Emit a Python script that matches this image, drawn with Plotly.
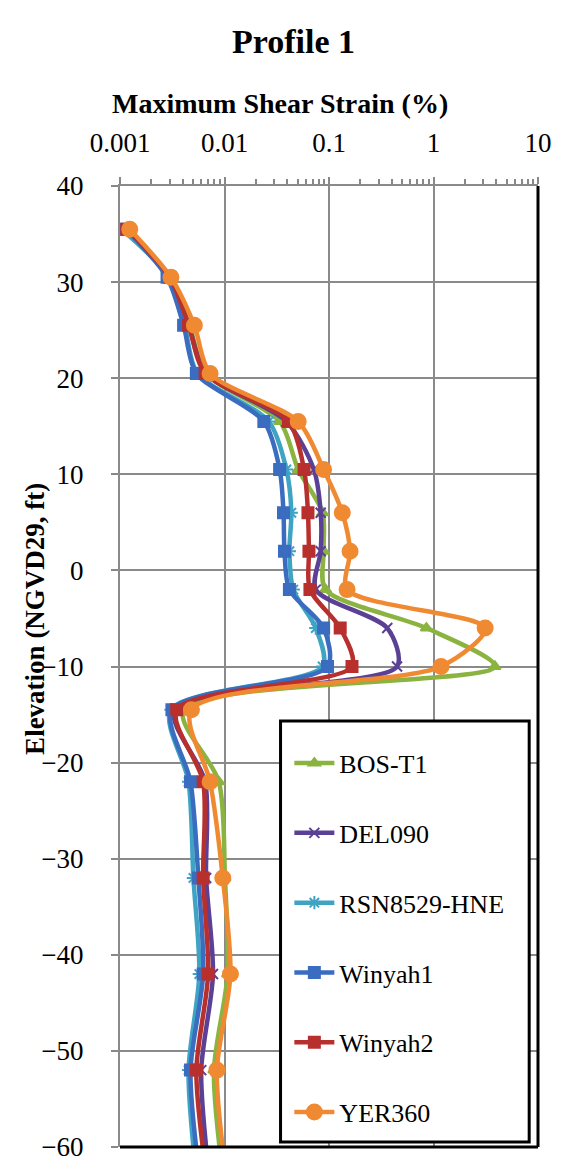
import plotly.graph_objects as go

# Elevation (ft, NGVD29) of each computed point
elevation = [35.5, 30.5, 25.5, 20.5, 15.5, 10.5, 6, 2, -2, -6, -10, -14.5, -22, -32, -42, -52, -62]

# Maximum shear strain (%) per motion
bos_t1 = [0.00116, 0.00300, 0.00462, 0.00667, 0.0337, 0.0507, 0.0869, 0.0888, 0.0927, 0.855, 3.87,
          0.00406, 0.00884, 0.0101, 0.0107, 0.00793, 0.00942]
del090 = [0.00109, 0.00300, 0.00453, 0.00667, 0.0391, 0.0716, 0.0833, 0.0833, 0.0747, 0.361, 0.448,
          0.00335, 0.00653, 0.00667, 0.00776, 0.00599, 0.00697]
rsn8529_hne = [0.00104, 0.00294, 0.00415, 0.00550, 0.0265, 0.0391, 0.0436, 0.0418, 0.0455, 0.0747, 0.0869,
               0.00307, 0.00453, 0.00504, 0.00574, 0.00453, 0.00526]
winyah1 = [0.00114, 0.00282, 0.00406, 0.00538, 0.0238, 0.0337, 0.0367, 0.0375, 0.0418, 0.0888, 0.0968,
           0.00314, 0.00473, 0.00562, 0.00625, 0.00473, 0.00562]
winyah2 = [0.00116, 0.00300, 0.00453, 0.00653, 0.0409, 0.0577, 0.0629, 0.0643, 0.0657, 0.128, 0.166,
           0.00349, 0.00625, 0.00625, 0.00697, 0.00538, 0.00653]
yer360 = [0.00124, 0.00307, 0.00515, 0.00728, 0.0507, 0.0888, 0.134, 0.159, 0.149, 3.12, 1.18,
          0.00483, 0.00728, 0.00963, 0.0114, 0.00846, 0.0101]

series_names = ["BOS-T1", "DEL090", "RSN8529-HNE", "Winyah1", "Winyah2", "YER360"]
series_values = [bos_t1, del090, rsn8529_hne, winyah1, winyah2, yer360]
colors = ["#8AB340", "#5B4196", "#3FA3C4", "#3A6CC0", "#B8302E", "#F08A32"]
symbols = ["triangle-up", "x-thin-open", "asterisk-open", "square", "square", "circle"]
msizes = [10, 10, 11, 11, 11, 15]

x_tickvals = [0.001, 0.01, 0.1, 1, 10]
x_ticktext = ["0.001", "0.01", "0.1", "1", "10"]
y_tickvals = [40, 30, 20, 10, 0, -10, -20, -30, -40, -50, -60]

FONT = "Liberation Serif"

fig = go.Figure()
for i, (name, vals) in enumerate(zip(series_names, series_values)):
    fig.add_trace(go.Scatter(
        x=vals, y=elevation, name=name, mode="lines+markers",
        legendgroup=name,
        line=dict(color=colors[i], width=4.5, shape="spline", smoothing=0.8),
        marker=dict(symbol=symbols[i], size=msizes[i], color=colors[i],
                    line=dict(color=colors[i], width=2)),
    ))

minor_vals = [m * 10 ** e for e in range(-3, 1) for m in range(2, 10)]

fig.update_layout(
    width=564, height=1174,
    margin=dict(l=120, r=17, t=186, b=16),
    paper_bgcolor="white", plot_bgcolor="white",
    font=dict(family=FONT, size=26, color="black"),
    showlegend=True,
    legend=dict(
        x=(293 - 120) / 427, y=(1158 - 746) / 972, xanchor="left", yanchor="top",
        bgcolor="rgba(0,0,0,0)", borderwidth=0,
        font=dict(family=FONT, size=26, color="black"),
        tracegroupgap=33, itemwidth=40,
    ),
    xaxis=dict(
        type="log", range=[-3, 1], side="top",
        tickmode="array", tickvals=x_tickvals, ticktext=x_ticktext,
        ticks="outside", ticklen=7, tickwidth=2, tickcolor="#888",
        ticklabelstandoff=14,
        minor=dict(tickmode="array", tickvals=minor_vals, ticks="outside",
                   ticklen=5, tickwidth=1.5, tickcolor="#888", showgrid=False),
        showgrid=True, gridcolor="#8a8a8a", gridwidth=2,
        showline=True, linecolor="#8a8a8a", linewidth=2,
        tickfont=dict(family=FONT, size=27),
        zeroline=False,
    ),
    yaxis=dict(
        range=[-60, 40], tickmode="array", tickvals=y_tickvals,
        ticks="outside", ticklen=7, tickwidth=2, tickcolor="#888",
        ticklabelstandoff=22,
        showgrid=True, gridcolor="#8a8a8a", gridwidth=2,
        showline=True, linecolor="#8a8a8a", linewidth=2,
        tickfont=dict(family=FONT, size=27),
        zeroline=False,
    ),
    annotations=[
        dict(text="<b>Profile 1</b>", xref="paper", yref="paper",
             x=(297 - 120) / 427, y=(1158 - 40) / 972, xanchor="center", yanchor="middle",
             showarrow=False, font=dict(family=FONT, size=34, color="black")),
        dict(text="<b>Maximum Shear Strain (%)</b>", xref="paper", yref="paper",
             x=(283 - 120) / 427, y=(1158 - 103) / 972, xanchor="center", yanchor="middle",
             showarrow=False, font=dict(family=FONT, size=28, color="black")),
        dict(text="<b>Elevation (NGVD29, ft)</b>", xref="paper", yref="paper",
             x=(33 - 120) / 427, y=(1158 - 624) / 972, xanchor="center", yanchor="middle",
             textangle=-90, showarrow=False, font=dict(family=FONT, size=27, color="black")),
    ],
    shapes=[
        # legend box
        dict(type="rect", xref="paper", yref="paper",
             x0=(284 - 120) / 427, x1=(538 - 120) / 427,
             y0=(1158 - 1153) / 972, y1=(1158 - 727) / 972,
             line=dict(color="black", width=3), fillcolor="white", layer="above"),
        # right and bottom frame in black
        dict(type="line", xref="paper", yref="paper", x0=1, x1=1, y0=0, y1=1,
             line=dict(color="black", width=3), layer="above"),
        dict(type="line", xref="paper", yref="paper", x0=0, x1=1, y0=0, y1=0,
             line=dict(color="black", width=3), layer="above"),
    ],
)

fig.write_html("out.html")
